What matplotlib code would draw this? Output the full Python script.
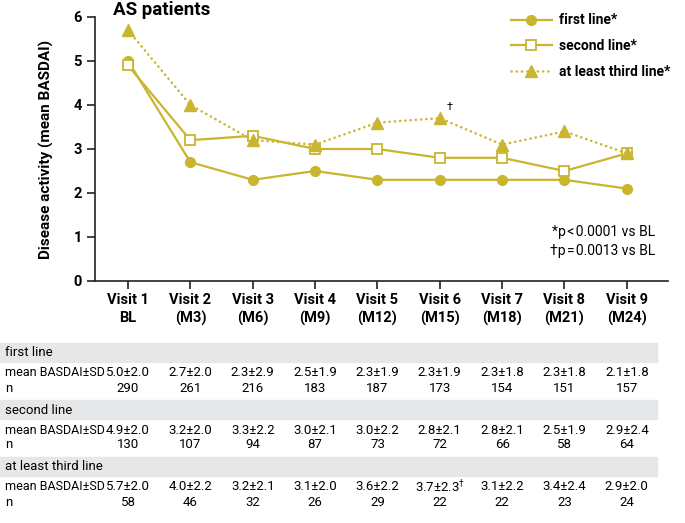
import numpy as np
import matplotlib
matplotlib.use('Agg')
import matplotlib.pyplot as plt
import matplotlib.transforms as mtransforms
from matplotlib.patches import Rectangle

plt.rcParams['font.family'] = ['Roboto', 'DejaVu Sans']

visits = ['Visit 1\nBL', 'Visit 2\n(M3)', 'Visit 3\n(M6)', 'Visit 4\n(M9)', 'Visit 5\n(M12)',
          'Visit 6\n(M15)', 'Visit 7\n(M18)', 'Visit 8\n(M21)', 'Visit 9\n(M24)']

first_mean = [5.0, 2.7, 2.3, 2.5, 2.3, 2.3, 2.3, 2.3, 2.1]
first_sd = [2.0, 2.0, 2.9, 1.9, 1.9, 1.9, 1.8, 1.8, 1.8]
first_n = [290, 261, 216, 183, 187, 173, 154, 151, 157]

second_mean = [4.9, 3.2, 3.3, 3.0, 3.0, 2.8, 2.8, 2.5, 2.9]
second_sd = [2.0, 2.0, 2.2, 2.1, 2.2, 2.1, 2.1, 1.9, 2.4]
second_n = [130, 107, 94, 87, 73, 72, 66, 58, 64]

third_mean = [5.7, 4.0, 3.2, 3.1, 3.6, 3.7, 3.1, 3.4, 2.9]
third_sd = [2.0, 2.2, 2.1, 2.0, 2.2, 2.3, 2.2, 2.4, 2.0]
third_n = [58, 46, 32, 26, 29, 22, 22, 23, 24]

gold = '#c9b52e'
W, H = 685, 523

fig = plt.figure(figsize=(W / 100, H / 100), dpi=100)
ax = fig.add_axes([95 / W, 1 - 281 / H, (668 - 95) / W, (281 - 17) / H])

x = np.arange(len(visits))
ax.plot(x, first_mean, color=gold, lw=1.6, marker='o', ms=7, label='first line*')
ax.plot(x, second_mean, color=gold, lw=1.6, marker='s', ms=6.5, mfc='white', mew=1.3,
        label='second line*')
ax.plot(x, third_mean, color=gold, lw=1.8, ls=(0, (0.1, 2.0)), dash_capstyle='round',
        marker='^', ms=8.5, label='at least third line*')

# dagger on visit 6
ax.annotate('\u2020', (5, third_mean[5]), xytext=(5, 6), textcoords='offset points',
            fontsize=8)

ax.set_xlim(-0.53, 8.66)
ax.set_ylim(0, 6)
ax.set_xticks(x)
ax.set_xticklabels(visits, fontsize=10.5, fontweight='bold', linespacing=1.3)
ax.set_yticks(range(7))
ax.set_yticklabels([str(v) for v in range(7)], fontsize=10.5, fontweight='bold')
ax.tick_params(direction='out', length=6, width=1.2, color='#222222')
ax.tick_params(axis='x', pad=3)
for s in ['top', 'right']:
    ax.spines[s].set_visible(False)
for s in ['left', 'bottom']:
    ax.spines[s].set_linewidth(1.2)
    ax.spines[s].set_color('#222222')
ax.set_ylabel('Disease activity (mean BASDAI)', fontsize=11, fontweight='bold', labelpad=14)

fig.text(113 / W, 1 - 10 / H, 'AS patients', fontsize=13.5, fontweight='bold', va='center')

leg = fig.legend(loc='upper left', bbox_to_anchor=(498 / W, 1 - 1 / H), frameon=False,
                 prop={'size': 10, 'weight': 'bold'}, handlelength=3.0, labelspacing=0.85,
                 handletextpad=0.5)

fig.text(655 / W, 1 - 232 / H, '*p\u200a<\u200a0.0001 vs BL', ha='right', va='center',
         fontsize=10)
fig.text(655 / W, 1 - 251 / H, '\u2020p\u200a=\u200a0.0013 vs BL', ha='right', va='center',
         fontsize=10)

# table below the chart
trans = mtransforms.blended_transform_factory(ax.transData, fig.transFigure)
groups = [('first line', first_mean, first_sd, first_n, 343),
          ('second line', second_mean, second_sd, second_n, 400),
          ('at least third line', third_mean, third_sd, third_n, 457)]
for name, means, sds, ns, top in groups:
    fig.patches.append(Rectangle((0, 1 - (top + 19) / H), 657 / W, 19 / H,
                                 transform=fig.transFigure, color='#e6e7e8', zorder=0))
    fig.text(5 / W, 1 - (top + 10) / H, name, fontsize=9.5, va='center')
    fig.text(5 / W, 1 - (top + 30) / H, 'mean BASDAI\u00b1SD', fontsize=9, va='center')
    fig.text(5 / W, 1 - (top + 45) / H, 'n', fontsize=9.5, va='center')
    for i in range(len(means)):
        lbl = f'{means[i]:.1f}\u00b1{sds[i]:.1f}'
        if name == 'at least third line' and i == 5:
            lbl += '$^\u2020$'
        fig.text(i, 1 - (top + 30) / H, lbl, transform=trans, fontsize=9.5, ha='center',
                 va='center')
        fig.text(i, 1 - (top + 45) / H, str(ns[i]), transform=trans, fontsize=9.5,
                 ha='center', va='center')

fig.savefig('out.png', dpi=100)
